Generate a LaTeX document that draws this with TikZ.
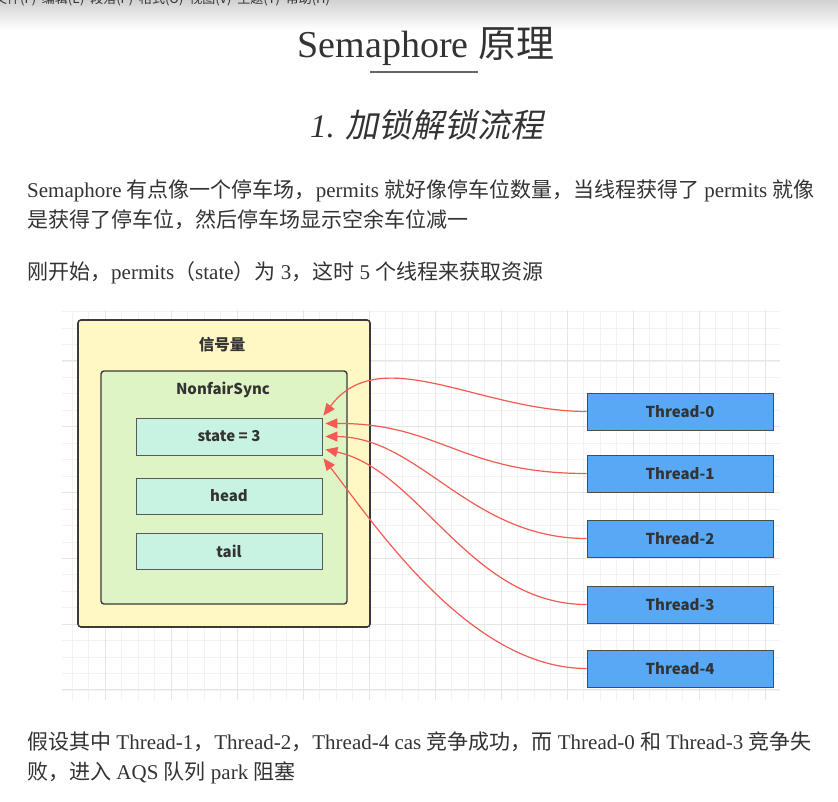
\documentclass[tikz,border=0pt]{standalone}
\usepackage{fontspec}
\setmainfont{Liberation Serif}
\newfontfamily\cjk{Noto Sans CJK SC}
\newfontfamily\cjkit{Noto Sans CJK SC}[FakeSlant=0.2]
\usetikzlibrary{arrows.meta,calc}
\definecolor{txt}{HTML}{333333}
\definecolor{yel}{HTML}{FFF8C4}
\definecolor{grn}{HTML}{DEF4C4}
\definecolor{mint}{HTML}{C8F2E2}
\definecolor{blu}{HTML}{58A8F6}
\definecolor{bord}{HTML}{3A3A3A}
\definecolor{arr}{HTML}{F45A52}
\definecolor{gmin}{HTML}{F2F2F2}
\definecolor{gmaj}{HTML}{E6E6E6}
\tikzset{
  outerbox/.style={draw=bord, line width=1.6pt, fill=yel, rounded corners=3pt, inner sep=0pt},
  innerbox/.style={draw=bord, line width=1.4pt, fill=grn, rounded corners=3pt, inner sep=0pt},
  fieldbox/.style={draw=gray!70!black, line width=0.8pt, fill=mint, minimum width=186pt, minimum height=37pt, inner sep=0pt,
     font=\cjk\bfseries\fontsize{15}{18}\selectfont, text=txt},
  threadbox/.style={draw=gray!60!black, line width=1pt, fill=blu, minimum width=186pt, minimum height=37pt, inner sep=0pt,
     font=\cjk\bfseries\fontsize{15}{18}\selectfont, text=txt},
  boxlabel/.style={font=\cjk\bfseries\fontsize{15.5}{18}\selectfont, text=txt, inner sep=0pt},
  para/.style={anchor=base west, inner sep=0pt, text=txt, font=\fontsize{21}{25}\selectfont},
  link/.style={draw=arr, line width=1.2pt, -{Triangle[length=12pt,width=10pt]}, fill=none},
  gridminor/.style={draw=gmin, line width=0.8pt},
  gridmajor/.style={draw=gmaj, line width=1pt}
}
\begin{document}
\begin{tikzpicture}[x=1pt,y=-1pt]
\useasboundingbox (0,0) rectangle (838,802);
\clip (0,0) rectangle (838,802);
\fill[white] (0,0) rectangle (838,802);
% top bar
\shade[top color=black!18, bottom color=white] (0,0) rectangle (838,30);
\node[anchor=base west, inner sep=0pt, text=txt, font=\cjk\fontsize{13}{15}\selectfont] (menu) at (-6,4)
  {文件(F)\ \ 编辑(E)\ \ 段落(P)\ \ 格式(O)\ \ 视图(V)\ \ 主题(T)\ \ 帮助(H)};
% title
\node[anchor=base, inner sep=0pt, text=txt, font=\fontsize{38}{44}\selectfont] (title) at (426,58) {Semaphore {\cjk 原理}};
\coordinate (ulA) at (370,72);
\coordinate (ulB) at (478,72);
\draw[black!60, line width=1.3pt] (ulA) -- (ulB);
\node[anchor=base, inner sep=0pt, text=txt, font=\itshape\fontsize{33}{40}\selectfont] (sub) at (427,138) {1. {\cjkit 加锁解锁流程}};
% paragraphs
\node[para] (p1) at (27,198) {Semaphore {\cjk 有点像一个停车场，}permits {\cjk 就好像停车位数量，当线程获得了} permits {\cjk 就像}};
\node[para] (p2) at (27,228) {\cjk 是获得了停车位，然后停车场显示空余车位减一};
\node[para] (p3) at (27,280) {{\cjk 刚开始，}permits{\cjk （}state{\cjk ）为} 3{\cjk ，这时} 5 {\cjk 个线程来获取资源}};
\node[para] (p4) at (27,749) {{\cjk 假设其中} Thread-1{\cjk ，}Thread-2{\cjk ，}Thread-4 cas {\cjk 竞争成功，而} Thread-0 {\cjk 和} Thread-3 {\cjk 竞争失}};
\node[para] (p5) at (27,779) {{\cjk 败，进入} AQS {\cjk 队列} park {\cjk 阻塞}};
% grid
\foreach \k in {0,...,42} \draw[gridminor] ({72.3+16.5*\k},310) -- ({72.3+16.5*\k},700);
\foreach \k in {0,...,23} \draw[gridminor] (62,{311.6+16.45*\k}) -- (780,{311.6+16.45*\k});
\foreach \k in {2,6,...,42} \draw[gridmajor] ({72.3+16.5*\k},310) -- ({72.3+16.5*\k},700);
\foreach \k in {3,7,...,23} \draw[gridmajor] (62,{311.6+16.45*\k}) -- (780,{311.6+16.45*\k});
% boxes
\node[outerbox, minimum width=292pt, minimum height=307pt] (sem) at (224,473.5) {};
\node[boxlabel] (semlbl) at (222,345) {信号量};
\node[innerbox, minimum width=246pt, minimum height=233pt] (sync) at (224,487.5) {};
\node[boxlabel, font=\cjk\bfseries\fontsize{15}{18}\selectfont] (synclbl) at (223,390) {NonfairSync};
\node[fieldbox] (state) at (229,436.5) {state = 3};
\node[fieldbox, minimum height=36pt] (head) at (229,496) {head};
\node[fieldbox, minimum height=36pt] (tail) at (229,551) {tail};
\node[threadbox] (t0) at (680,411.5) {Thread-0};
\node[threadbox] (t1) at (680,473.5) {Thread-1};
\node[threadbox] (t2) at (680,538.5) {Thread-2};
\node[threadbox] (t3) at (680,604.5) {Thread-3};
\node[threadbox] (t4) at (680,668.5) {Thread-4};
% arrow ends
\coordinate (e0) at ($(state.north east)+(1,-2)$);
\coordinate (e1) at ($(state.east)+(3,-13)$);
\coordinate (e2) at ($(state.east)+(3,0)$);
\coordinate (e3) at ($(state.east)+(3,13)$);
\coordinate (e4) at ($(state.south east)+(1,3)$);
\draw[link] (t0.west) .. controls (480,411.5) and (380,340) .. (e0);
\draw[link] (t1.west) .. controls (460,473.5) and (440,423) .. (e1);
\draw[link] (t2.west) .. controls (470,538.5) and (420,437) .. (e2);
\draw[link] (t3.west) .. controls (470,604.5) and (420,470) .. (e3);
\draw[link] (t4.west) .. controls (470,668.5) and (375,525) .. (e4);
\end{tikzpicture}
\end{document}
